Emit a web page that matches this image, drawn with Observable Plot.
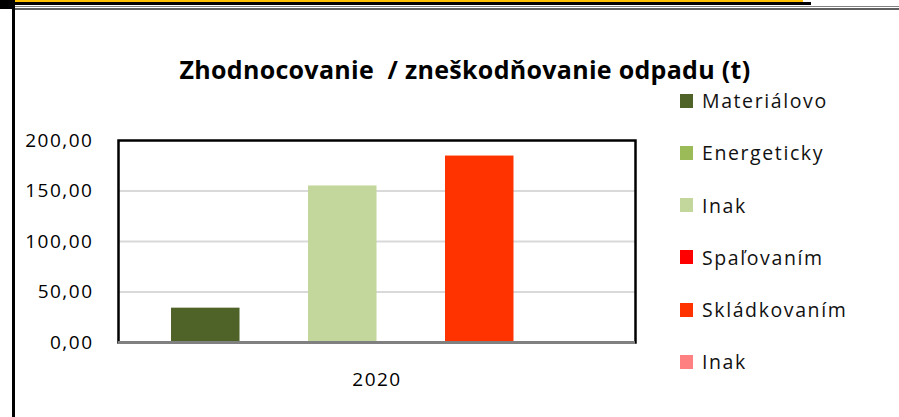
<!DOCTYPE html>
<html>
<head>
<meta charset="utf-8">
<script src="https://cdn.jsdelivr.net/npm/d3@7"></script>
<script src="https://cdn.jsdelivr.net/npm/@observablehq/plot@0.6"></script>
<style>
  html, body { margin: 0; padding: 0; background: #fff; overflow: hidden; }
  #wrap { position: relative; width: 899px; height: 417px; background: #fff; font-family: "Open Sans", sans-serif; }
  #wrap svg { position: absolute; left: 0; top: 0; }
  .deco { position: absolute; }
  #title { position: absolute; left: 0; width: 930px; top: 52px; text-align: center; font-weight: bold; font-size: 25px; letter-spacing: 0.3px; line-height: normal; color: #000; white-space: pre; }
  .lg { position: absolute; left: 680px; height: 28px; display: flex; align-items: center; font-size: 19.5px; letter-spacing: 1.6px; color: #111; white-space: nowrap; }
  .lg span.sw { display: inline-block; width: 13px; height: 14px; margin-right: 9px; }
</style>
</head>
<body>
<div id="wrap">
  <div class="deco" style="left:0;top:0;width:803px;height:2px;background:#ffc000"></div>
  <div class="deco" style="left:0;top:2px;width:811px;height:3px;background:#000"></div>
  <div class="deco" style="left:0;top:0;width:15px;height:9px;background:#000"></div>
  <div class="deco" style="left:15px;top:6px;width:884px;height:1px;background:#808080"></div>
  <div class="deco" style="left:15px;top:8px;width:884px;height:2px;background:#606060"></div>
  <div class="deco" style="left:12px;top:2px;width:3px;height:415px;background:#000"></div>
  <div id="title"></div>
  <div id="legend"></div>
</div>
<script>
const titleText = "Zhodnocovanie  / zneškodňovanie odpadu (t)";
const categories = ["2020"];
const seriesNames = ["Materiálovo", "Energeticky", "Inak", "Spaľovaním", "Skládkovaním", "Inak"];
const seriesValues = [34, 0, 155, 0, 184.6, 0];
const seriesColors = ["#4f6228", "#9bbb59", "#c3d69b", "#ff0000", "#ff3300", "#ff8080"];
const yTicks = [0, 50, 100, 150, 200];
const yTickLabels = ["0,00", "50,00", "100,00", "150,00", "200,00"];

const data = seriesNames.map((name, i) => ({year: categories[0], key: i, name, value: seriesValues[i]}));

document.getElementById("title").textContent = titleText;

const legend = document.getElementById("legend");
seriesNames.forEach((name, i) => {
  const d = document.createElement("div");
  d.className = "lg";
  d.style.top = (100.7 + i * 52.2 - 14) + "px";
  const sw = document.createElement("span");
  sw.className = "sw";
  sw.style.background = seriesColors[i];
  d.appendChild(sw);
  d.appendChild(document.createTextNode(name));
  legend.appendChild(d);
});

const chart = Plot.plot({
  width: 899,
  height: 417,
  marginLeft: 118,
  marginRight: 264,
  marginTop: 140,
  marginBottom: 75,
  style: {fontSize: "19px", fontFamily: "Open Sans, sans-serif", color: "#000", background: "transparent", letterSpacing: "1.5px"},
  fx: {domain: categories, padding: 0, label: null, axis: "bottom", tickSize: 0, tickPadding: 30},
  x: {domain: seriesNames.map((_, i) => i), paddingInner: 0, paddingOuter: 0.774, axis: null, round: false},
  y: {domain: [0, 200], ticks: yTicks, tickFormat: (d) => yTickLabels[yTicks.indexOf(d)], tickSize: 0, tickPadding: 25, label: null},
  marks: [
    Plot.ruleY(yTicks.filter(v => v > 0 && v < 200), {stroke: "#d9d9d9", strokeWidth: 2}),
    Plot.barY(data, {fx: "year", x: "key", y: "value", fill: (d) => seriesColors[d.key]}),
    Plot.frame({stroke: "#000", strokeWidth: 2.5}),
    Plot.ruleY([0], {stroke: "#808080", strokeWidth: 3})
  ]
});
document.getElementById("wrap").insertBefore(chart, document.getElementById("title"));
</script>
</body>
</html>
